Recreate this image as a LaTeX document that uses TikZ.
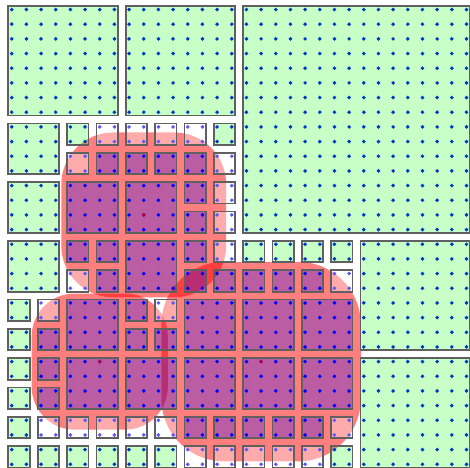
\documentclass[tikz,border=0pt]{standalone}
\usepackage{tikz}
\definecolor{Leaf}{HTML}{00FF00}
\definecolor{Ink}{HTML}{0000FF}
\definecolor{Flame}{HTML}{FF0000}
\definecolor{Frame}{HTML}{606060}

\begin{document}
\begin{tikzpicture}[
  x=5mm,y=-5mm,
  cell/.style={line width=1.7pt,draw=Frame},
  outcell/.style={cell,fill=Leaf,fill opacity=0.22},
  cutcell/.style={cell,fill=white,fill opacity=0.35},
  incell/.style={cell,fill=Ink,fill opacity=0.27},
  zone/.style={fill=Flame,fill opacity=0.5},
  dot/.style={fill=Ink},
  source/.style={fill=Flame}
]
  \def\inset{0.27}
  \useasboundingbox (-0.3,-0.15) rectangle (31.74,31.75);
  \clip (-0.3,-0.15) rectangle (31.74,31.75);
  \foreach \cx/\cy/\r/\rc in {9.5/14.5/5.62/17.7mm,6.5/24.5/4.64/14.6mm,17.5/24.5/6.8/21.4mm}
    \fill[zone,rounded corners=\rc] (\cx-\r,\cy-\r) rectangle (\cx+\r,\cy+\r);
  \foreach \i in {0,...,31}
    \foreach \j in {0,...,31}
      \fill[dot] (\i+0.5,\j+0.5) circle (0.135);
  \foreach \cx/\cy in {9.5/14.5,6.5/24.5,17.5/24.5}
    \fill[source] (\cx,\cy) circle (0.135);
  \foreach \x/\y/\s in {16/0/16,0/0/8,8/0/8,24/16/8,24/24/8,0/8/4,0/12/4,0/16/4,
      4/8/2,14/8/2,0/20/2,0/22/2,0/24/2,0/26/2,0/28/2,0/30/2,2/30/2,4/30/2,6/30/2,
      8/30/2,10/30/2,16/16/2,18/16/2,20/16/2,22/16/2,22/30/2}
    \draw[outcell] (\x+\inset,\y+\inset) rectangle (\x+\s-\inset,\y+\s-\inset);
  \foreach \x/\y in {6/8,4/10,8/8,10/8,12/8,14/10,14/12,14/14,4/18,14/16,2/20,10/20,
      2/28,4/28,6/28,8/28,10/28,12/30,14/30,22/18,16/30,18/30,20/30,22/28}
    \draw[cutcell] (\x+\inset,\y+\inset) rectangle (\x+2-\inset,\y+2-\inset);
  \foreach \x/\y/\s in {4/12/4,8/12/4,8/16/4,4/20/4,12/20/4,4/24/4,8/24/4,12/24/4,
      16/20/4,20/20/4,16/24/4,20/24/4,6/10/2,8/10/2,10/10/2,12/10/2,12/12/2,12/14/2,
      4/16/2,6/16/2,6/18/2,12/16/2,12/18/2,14/18/2,2/22/2,8/20/2,8/22/2,10/22/2,
      2/24/2,2/26/2,12/28/2,14/28/2,16/18/2,18/18/2,20/18/2,16/28/2,18/28/2,20/28/2}
    \draw[incell] (\x+\inset,\y+\inset) rectangle (\x+\s-\inset,\y+\s-\inset);
\end{tikzpicture}
\end{document}
